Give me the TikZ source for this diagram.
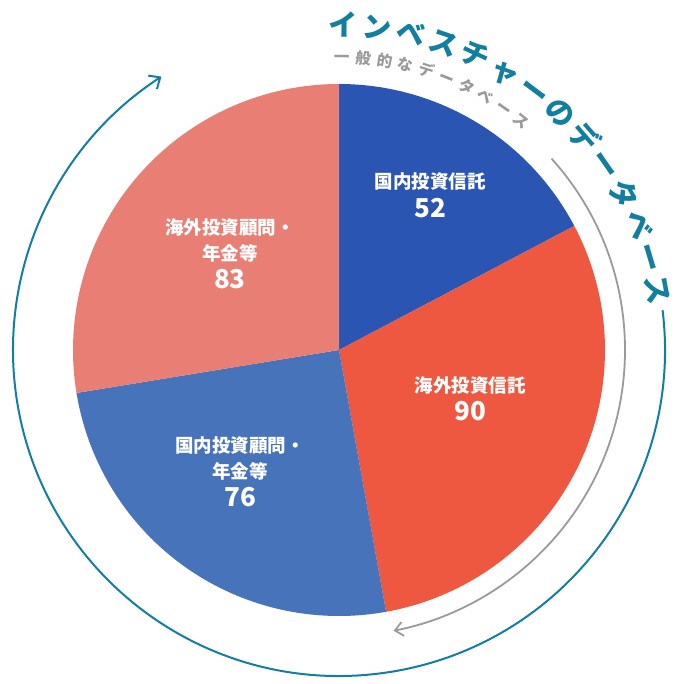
\documentclass[tikz,border=0pt]{standalone}
\usepackage{fontspec}
\setmainfont{Noto Sans CJK JP}
\newcommand\jpbold{\bfseries}
\usetikzlibrary{positioning,arrows.meta,decorations.text}
\definecolor{dblue}{HTML}{2B55B3}
\definecolor{mblue}{HTML}{4673BA}
\definecolor{orred}{HTML}{EE5840}
\definecolor{salmon}{HTML}{E87E74}
\definecolor{teal}{HTML}{127EA0}
\definecolor{lgray}{HTML}{9A9A9A}
\begin{document}
\begin{tikzpicture}[
  x=1pt, y=1pt,
  lbl/.style={text=white,font=\jpbold\fontsize{18.5}{26}\selectfont,align=center},
  num/.style={text=white,font=\jpbold\fontsize{26}{28}\selectfont}
]
\useasboundingbox (-339,-334) rectangle (341,350);
% slices
\fill[dblue] (0,0) -- (90:266) arc[start angle=90,end angle=27.8,radius=266] -- cycle;
\fill[orred] (0,0) -- (27.8:266) arc[start angle=27.8,end angle=-79.8,radius=266] -- cycle;
\fill[mblue] (0,0) -- (-79.8:266) arc[start angle=-79.8,end angle=-170.7,radius=266] -- cycle;
\fill[salmon] (0,0) -- (-170.7:266) arc[start angle=-170.7,end angle=-270,radius=266] -- cycle;
% labels
\node[lbl] (dtl) at (91,168) {国内投資信託};
\node[num,below=0pt of dtl] (dtn) {52};
\node[lbl] (ftl) at (131,-35) {海外投資信託};
\node[num,below=0pt of ftl] (ftn) {90};
\node[lbl] (dal) at (-99,-108) {国内投資顧問・\\年金等};
\node[num,below=0pt of dal] (dan) {76};
\node[lbl] (fal) at (-109,110) {海外投資顧問・\\年金等};
\node[num,below=0pt of fal] (fan) {83};
% outer arcs
\draw[teal,line width=2pt,-{Straight Barb[length=9pt,width=16pt]}]
  (7:326) arc[start angle=7,end angle=-237,radius=326];
\draw[lgray,line width=1.8pt,-{Straight Barb[length=8pt,width=14pt]}]
  (42:286) arc[start angle=42,end angle=-79,radius=286];
% arc texts
\path[decorate,decoration={text along path,text align=fit to path,
  text={|\jpbold\fontsize{29}{29}\selectfont\color{teal}|インベスチャーのデータベース}}]
  (92:314) arc[start angle=92,end angle=8,radius=314];
\path[decorate,decoration={text along path,text align=fit to path,
  text={|\jpbold\fontsize{15.5}{15.5}\selectfont\color{lgray}|一般的なデータベース}}]
  (91:287) arc[start angle=91,end angle=50,radius=287];
\end{tikzpicture}
\end{document}
